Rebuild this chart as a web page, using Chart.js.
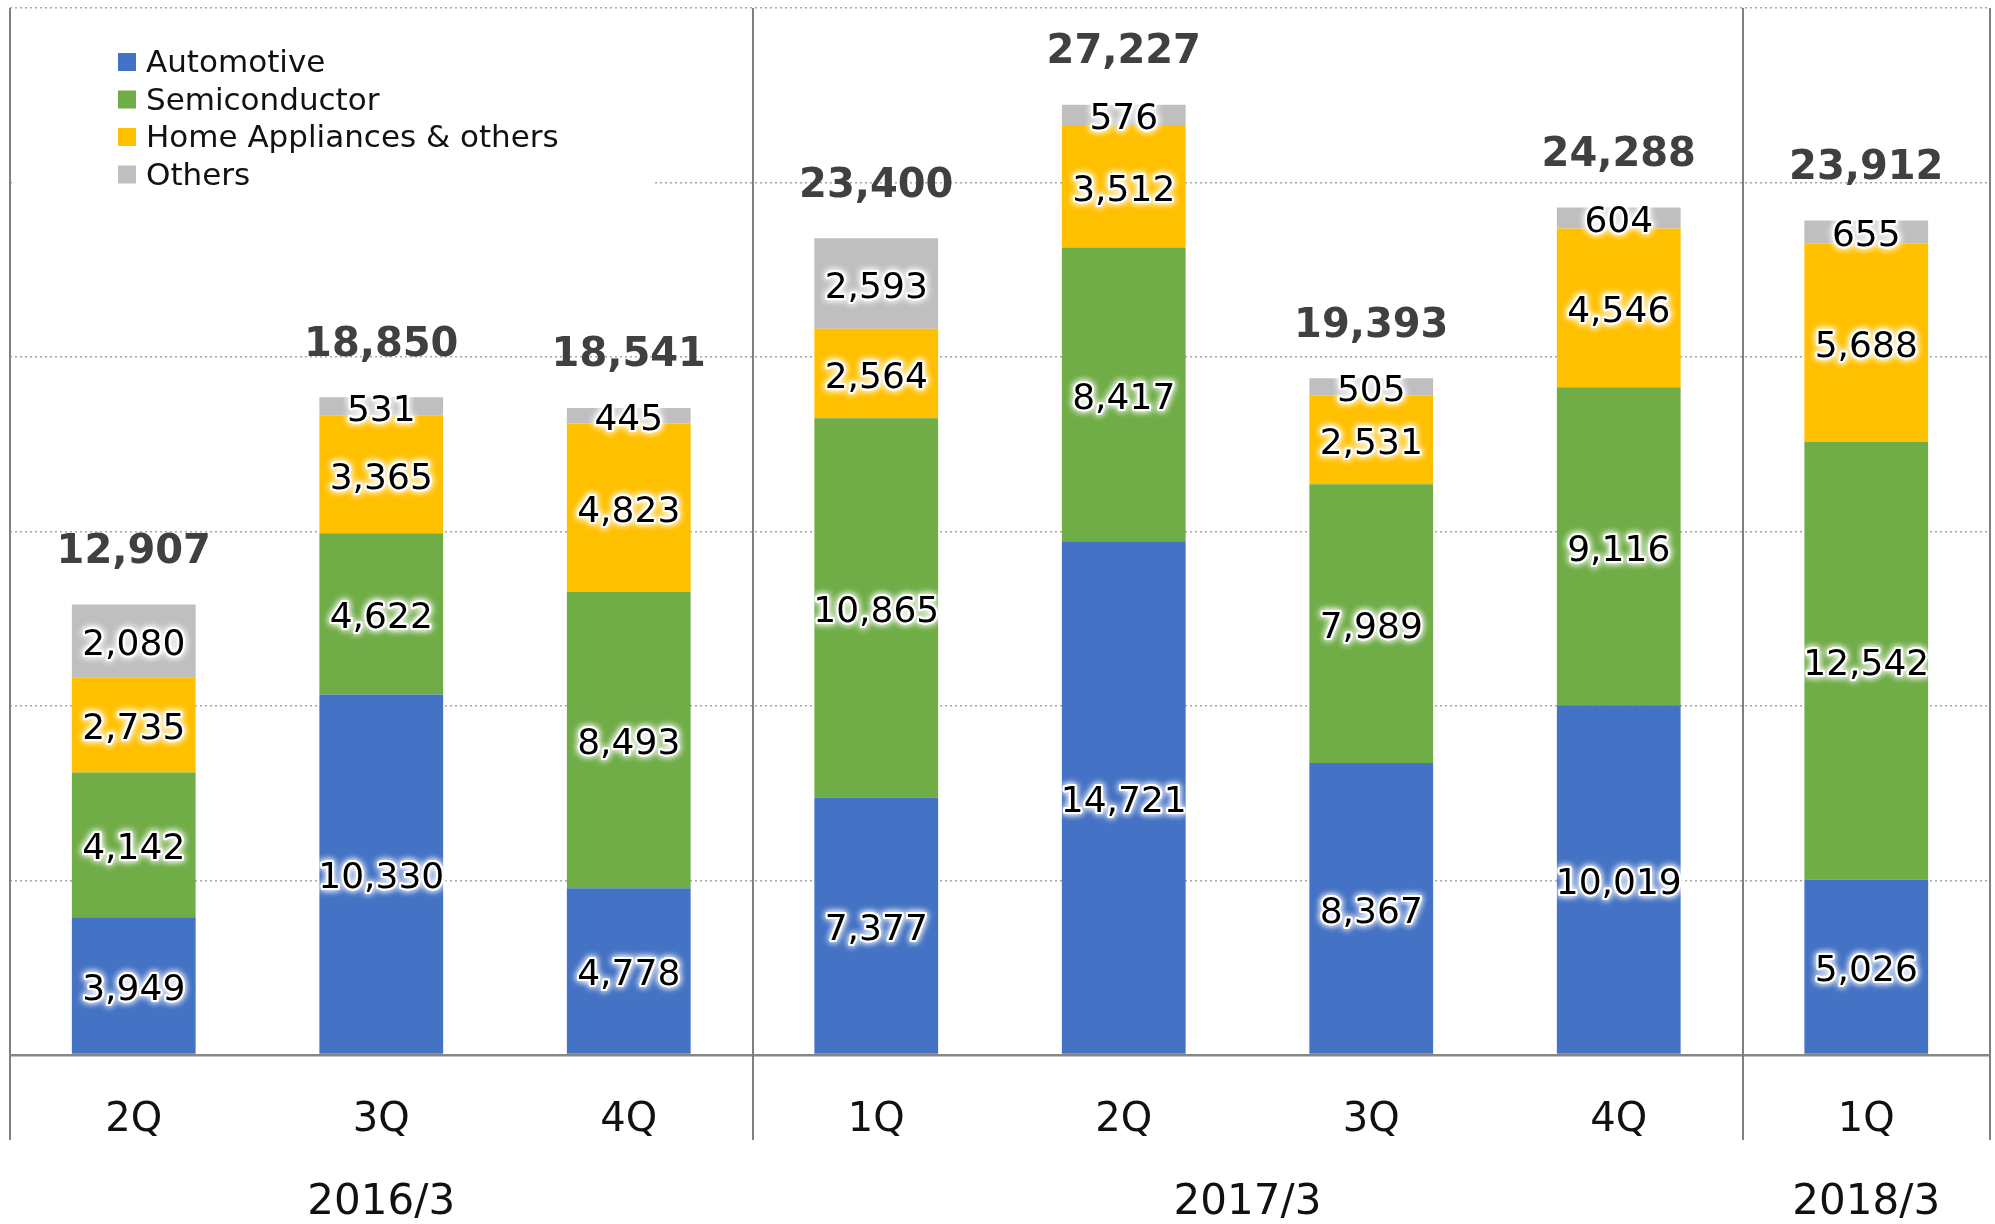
<!DOCTYPE html>
<html lang="en">
<head>
<meta charset="utf-8">
<title>Sales by segment</title>
<script src="https://cdn.jsdelivr.net/npm/chart.js@4.4.1/dist/chart.umd.min.js"></script>
<style>
  html, body { margin: 0; padding: 0; background: #fff; }
  #wrap { width: 1995px; height: 1224px; }
</style>
</head>
<body>
<div id="wrap"><canvas id="c" width="1995" height="1224"></canvas></div>
<script>
// ---- data -------------------------------------------------------------
const QUARTERS  = ["2Q", "3Q", "4Q", "1Q", "2Q", "3Q", "4Q", "1Q"];
const YEARS     = ["2016/3", "2017/3", "2018/3"];
const YEAR_SPAN = [3, 4, 1];   // how many quarters each fiscal year covers

const AUTOMOTIVE    = [3949, 10330, 4778, 7377, 14721, 8367, 10019, 5026];
const SEMICONDUCTOR = [4142, 4622, 8493, 10865, 8417, 7989, 9116, 12542];
const HOME_APPL     = [2735, 3365, 4823, 2564, 3512, 2531, 4546, 5688];
const OTHERS        = [2080, 531, 445, 2593, 576, 505, 604, 655];
const TOTALS        = [12907, 18850, 18541, 23400, 27227, 19393, 24288, 23912];

const Y_MAX = 30000, Y_STEP = 5000;

// Office-like colours
const BLUE = "#4472c4", GREEN = "#70ad47", GOLD = "#ffc000", GREY = "#bfbfbf";
const FONT = '"DejaVu Sans", Verdana, sans-serif';

const fmt = n => n.toLocaleString("en-US");

// black text with a soft white halo
function glowText(ctx, txt, x, y) {
  ctx.save();
  ctx.shadowColor = "#fff";
  ctx.shadowBlur = 7;
  ctx.strokeStyle = "rgba(255,255,255,0.9)";
  ctx.lineWidth = 4;
  ctx.lineJoin = "round";
  ctx.strokeText(txt, x, y);
  ctx.strokeText(txt, x, y);
  ctx.shadowBlur = 0;
  ctx.fillStyle = "#000";
  ctx.fillText(txt, x, y);
  ctx.restore();
}

// ---- legend, labels, separators ----------------------------------------
const decor = {
  id: "decor",
  beforeDatasetsDraw(chart) {
    const { ctx, chartArea: a } = chart;
    ctx.save();
    // the legend sits on a white box that hides the gridline behind it
    ctx.fillStyle = "#fff";
    ctx.fillRect(a.left + 3, 22, 640, 175);
    ctx.font = "31px " + FONT;
    ctx.textBaseline = "middle";
    chart.data.datasets.forEach((ds, i) => {
      const y = 62 + i * 37.5;
      ctx.fillStyle = ds.backgroundColor;
      ctx.fillRect(118, y - 9, 18, 18);
      ctx.fillStyle = "#111";
      ctx.fillText(ds.label, 146, y + 2);
    });
    ctx.restore();
  },
  afterDatasetsDraw(chart) {
    const { ctx, chartArea: a, scales: { x, y } } = chart;
    ctx.save();

    // value inside each segment
    ctx.font = "36px " + FONT;
    ctx.textAlign = "center";
    ctx.textBaseline = "middle";
    chart.data.datasets.forEach((ds, di) => {
      chart.getDatasetMeta(di).data.forEach((bar, i) => {
        glowText(ctx, fmt(ds.data[i]), bar.x, (bar.y + bar.base) / 2 + 5);
      });
    });

    // stack totals
    ctx.font = "bold 40px " + FONT;
    ctx.fillStyle = "#404040";
    TOTALS.forEach((t, i) => {
      ctx.fillText(fmt(t), x.getPixelForValue(i), y.getPixelForValue(t) - 52);
    });

    // fiscal-year separators, running down through the quarter row
    const step = x.getPixelForValue(1) - x.getPixelForValue(0);
    ctx.strokeStyle = "#808080";
    ctx.lineWidth = 2;
    let start = 0;
    const edges = [0];
    YEAR_SPAN.forEach(n => { start += n; edges.push(start); });
    edges.forEach(k => {
      const px = Math.round(x.getPixelForValue(k) - step / 2);
      ctx.beginPath();
      ctx.moveTo(px, a.top);
      ctx.lineTo(px, 1140);
      ctx.stroke();
    });

    // quarter and year labels
    ctx.fillStyle = "#111";
    ctx.font = "40px " + FONT;
    QUARTERS.forEach((q, i) => ctx.fillText(q, x.getPixelForValue(i), 1121));
    ctx.font = "42px " + FONT;
    start = 0;
    YEARS.forEach((yr, j) => {
      const mid = (x.getPixelForValue(start) + x.getPixelForValue(start + YEAR_SPAN[j] - 1)) / 2;
      ctx.fillText(yr, mid, 1203);
      start += YEAR_SPAN[j];
    });
    ctx.restore();
  },
};

// ---- chart --------------------------------------------------------------
function stack(label, data, color) {
  return { label, data, backgroundColor: color, borderWidth: 0,
           barPercentage: 0.5, categoryPercentage: 1 };
}

new Chart(document.getElementById("c"), {
  type: "bar",
  data: {
    labels: QUARTERS,
    datasets: [
      stack("Automotive", AUTOMOTIVE, BLUE),
      stack("Semiconductor", SEMICONDUCTOR, GREEN),
      stack("Home Appliances & others", HOME_APPL, GOLD),
      stack("Others", OTHERS, GREY),
    ],
  },
  options: {
    responsive: false,
    animation: false,
    devicePixelRatio: 1,
    layout: { padding: { left: 10, right: 5, top: 8, bottom: 169 } },
    plugins: { legend: { display: false }, tooltip: { enabled: false } },
    scales: {
      x: { stacked: true, display: false },
      y: {
        stacked: true, min: 0, max: Y_MAX,
        afterFit: s => { s.width = 0; },
        ticks: { display: false, stepSize: Y_STEP },
        grid: {
          drawTicks: false,
          color: c => c.tick.value === 0 ? "#878787" : "#a6a6a6",
          lineWidth: c => c.tick.value === 0 ? 2.5 : 1.5,
        },
        border: {
          display: false,
          dash: c => c.tick && c.tick.value === 0 ? [] : [2, 3],
        },
      },
    },
  },
  plugins: [decor],
});
</script>
</body>
</html>
